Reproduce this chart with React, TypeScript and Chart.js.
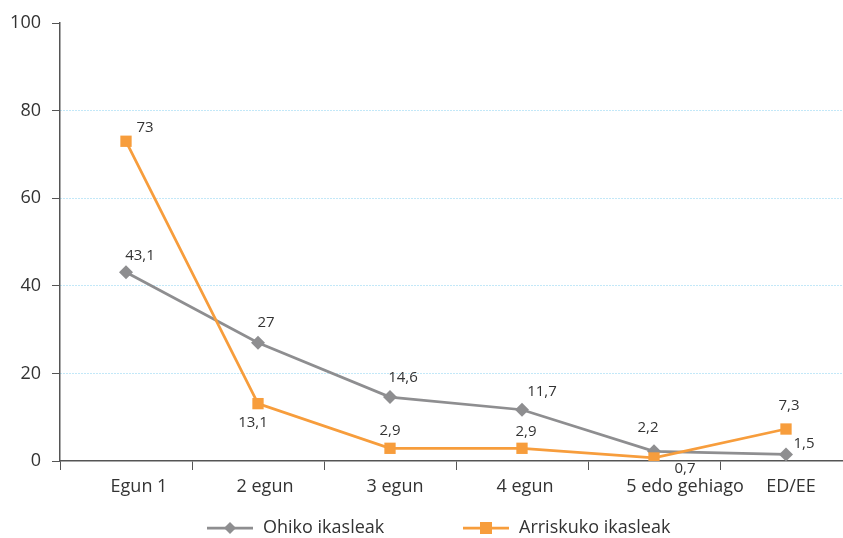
import React, { useEffect, useRef } from "react";
import { Chart, registerables } from "chart.js";

Chart.register(...registerables);

const categories = ["Egun 1", "2 egun", "3 egun", "4 egun", "5 edo gehiago", "ED/EE"];
const ohikoLabel = "Ohiko ikasleak";
const arriskukoLabel = "Arriskuko ikasleak";
const ohikoValues = [43.1, 27, 14.6, 11.7, 2.2, 1.5];
const arriskukoValues = [73, 13.1, 2.9, 2.9, 0.7, 7.3];
const yMin = 0;
const yMax = 100;
const yStep = 20;

// label placement offsets (dx, dy) relative to each point
const ohikoLabelOffsets = [[14, -16], [8, -20], [13, -19], [20, -18], [-6, -24], [18, -11]];
const arriskukoLabelOffsets = [[19, -14], [-5, 19], [0, -18], [4, -17], [31, 11], [3, -23]];
// horizontal shift of category labels relative to category centre
const categoryLabelShift = [13, 7, 5, 3, 31, 5];

const GRAY = "#8e8e90";
const ORANGE = "#f79d3c";
const TEXT = "#333333";
const AXIS = "#555555";
const FONT = "'Open Sans', sans-serif";

const fmt = (v: number) => String(v).replace(".", ",");

const dataLabelPlugin = {
  id: "dataLabels",
  afterDatasetsDraw(chart: any) {
    const ctx = chart.ctx;
    ctx.save();
    ctx.font = `15px ${FONT}`;
    ctx.fillStyle = TEXT;
    ctx.textAlign = "center";
    ctx.textBaseline = "middle";
    chart.data.datasets.forEach((ds: any, i: number) => {
      const meta = chart.getDatasetMeta(i);
      meta.data.forEach((el: any, j: number) => {
        const off = ds.labelOffsets[j];
        ctx.fillText(fmt(ds.data[j]), el.x + off[0], el.y + off[1]);
      });
    });
    ctx.restore();
  },
};

const categoryLabelPlugin = {
  id: "categoryLabels",
  afterDraw(chart: any) {
    const ctx = chart.ctx;
    const xs = chart.scales.x;
    ctx.save();
    ctx.font = `18px ${FONT}`;
    ctx.fillStyle = TEXT;
    ctx.textAlign = "center";
    ctx.textBaseline = "middle";
    chart.data.labels.forEach((lab: string, i: number) => {
      ctx.fillText(lab, xs.getPixelForValue(i) + categoryLabelShift[i], xs.top + 26);
    });
    ctx.restore();
  },
};

const legendPlugin = {
  id: "customLegend",
  afterDraw(chart: any) {
    const ctx = chart.ctx;
    const y = 528;
    const starts = [207, 463];
    ctx.save();
    ctx.font = `18px ${FONT}`;
    ctx.textBaseline = "middle";
    ctx.textAlign = "left";
    chart.data.datasets.forEach((ds: any, i: number) => {
      const x0 = starts[i];
      const lineLen = 46;
      ctx.strokeStyle = ds.borderColor;
      ctx.lineWidth = ds.borderWidth;
      ctx.beginPath();
      ctx.moveTo(x0, y);
      ctx.lineTo(x0 + lineLen, y);
      ctx.stroke();
      ctx.fillStyle = ds.pointBackgroundColor;
      const cx = x0 + lineLen / 2;
      if (ds.pointStyle === "rect") {
        ctx.fillRect(cx - 6, y - 6, 12, 12);
      } else {
        ctx.beginPath();
        ctx.moveTo(cx, y - 6);
        ctx.lineTo(cx + 6, y);
        ctx.lineTo(cx, y + 6);
        ctx.lineTo(cx - 6, y);
        ctx.closePath();
        ctx.fill();
      }
      ctx.fillStyle = TEXT;
      ctx.fillText(ds.label, x0 + lineLen + 10, y);
    });
    ctx.restore();
  },
};

export default function App() {
  const ref = useRef<HTMLCanvasElement | null>(null);
  useEffect(() => {
    if (!ref.current) return;
    Chart.defaults.font.family = FONT;
    const chart = new Chart(ref.current, {
      type: "line",
      data: {
        labels: categories,
        datasets: [
          {
            label: ohikoLabel,
            data: ohikoValues,
            borderColor: GRAY,
            backgroundColor: GRAY,
            pointBackgroundColor: GRAY,
            borderWidth: 2.75,
            pointStyle: "rectRot",
            pointRadius: 7,
            pointBorderWidth: 0,
            tension: 0,
            order: 1,
            labelOffsets: ohikoLabelOffsets,
          } as any,
          {
            label: arriskukoLabel,
            data: arriskukoValues,
            borderColor: ORANGE,
            backgroundColor: ORANGE,
            pointBackgroundColor: ORANGE,
            borderWidth: 2.75,
            pointStyle: "rect",
            pointRadius: 8,
            pointBorderWidth: 0,
            tension: 0,
            order: 0,
            labelOffsets: arriskukoLabelOffsets,
          } as any,
        ],
      },
      options: {
        animation: false,
        responsive: false,
        devicePixelRatio: 1,
        layout: { padding: { left: 0, right: 18, top: 23, bottom: 37 } },
        plugins: { legend: { display: false }, tooltip: { enabled: false } },
        scales: {
          x: {
            type: "category",
            offset: true,
            grid: {
              offset: true,
              drawOnChartArea: false,
              tickLength: 9,
              tickColor: AXIS,
              color: AXIS,
            },
            border: { color: AXIS, width: 1.5 },
            ticks: { display: false },
            afterFit: (scale: any) => {
              scale.height = 40;
            },
          },
          y: {
            min: yMin,
            max: yMax,
            ticks: { stepSize: yStep, color: TEXT, font: { size: 18 }, padding: 11 },
            grid: {
              color: (c: any) =>
                c.tick && c.tick.value > yMin && c.tick.value < yMax ? "#86d0f0" : "rgba(0,0,0,0)",
              tickColor: AXIS,
              tickLength: 8,
              lineWidth: 1,
            },
            border: { color: AXIS, width: 1.5, dash: [1, 2] },
            afterFit: (scale: any) => {
              scale.width = 60;
            },
          },
        },
      },
      plugins: [dataLabelPlugin, categoryLabelPlugin, legendPlugin],
    } as any);
    return () => chart.destroy();
  }, []);
  return (
    <div
      style={{
        position: "fixed",
        left: 0,
        top: 0,
        width: 843,
        height: 538,
        overflow: "hidden",
        background: "#fff",
      }}
    >
      <canvas ref={ref} width={870} height={538} style={{ display: "block" }} />
    </div>
  );
}
